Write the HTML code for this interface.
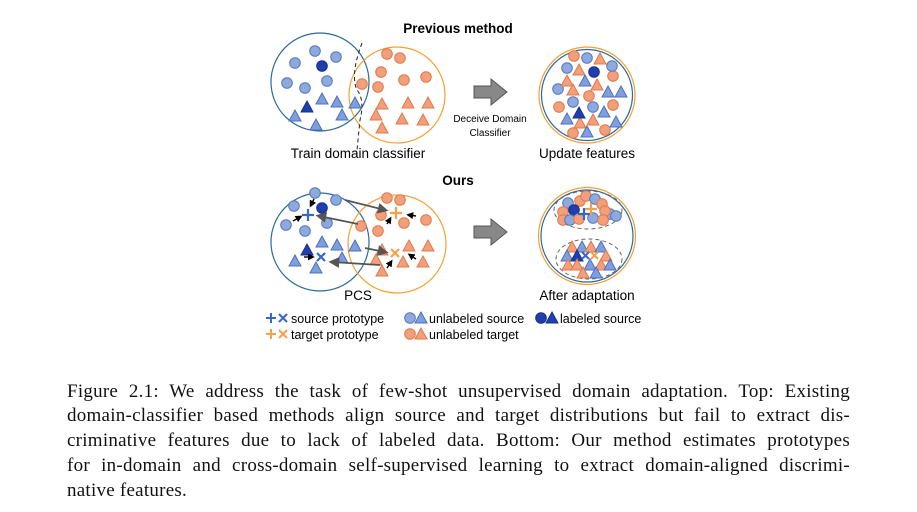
<!DOCTYPE html>
<html><head><meta charset="utf-8"><style>
body{margin:0;background:#fff;width:917px;height:512px;overflow:hidden;position:relative}
svg{position:absolute;left:0;top:0}
.cap{position:absolute;left:67px;width:783px;font-family:"Liberation Serif",serif;font-size:19px;letter-spacing:0.25px;color:#111;white-space:nowrap}
.j{text-align:justify;text-align-last:justify;white-space:normal}
</style></head><body>
<svg width="917" height="360" viewBox="0 0 917 360">
<defs>
<circle id="bc" r="5.3" fill="#8eaadc" stroke="#5577c0" stroke-width="1"/>
<circle id="dc" r="5.3" fill="#1f3fae" stroke="#16308a" stroke-width="1"/>
<circle id="oc" r="5.3" fill="#f2a07c" stroke="#e0794a" stroke-width="1"/>
<polygon id="bt" points="0,-6 6,5 -6,5" fill="#7f9fdc" stroke="#4d6fc0" stroke-width="1"/>
<polygon id="dt" points="0,-6 6,5 -6,5" fill="#1f3fae" stroke="#16308a" stroke-width="1"/>
<polygon id="ot" points="0,-6 6,5 -6,5" fill="#f2a07c" stroke="#e0794a" stroke-width="1"/>
<marker id="ga" markerWidth="6" markerHeight="6" refX="4" refY="3" orient="auto"><path d="M0,0 L6,3 L0,6z" fill="#555"/></marker>
<marker id="ka" markerWidth="5" markerHeight="5" refX="3" refY="2.5" orient="auto"><path d="M0,0 L5,2.5 L0,5z" fill="#000"/></marker>
</defs>
<g font-family="Liberation Sans,sans-serif" text-anchor="middle" fill="#000">
<text x="458" y="33" font-size="13.5" font-weight="bold">Previous method</text>
<text x="458" y="185" font-size="13.5" font-weight="bold">Ours</text>
<text x="358" y="158" font-size="13.5">Train domain classifier</text>
<text x="587" y="158" font-size="13.5">Update features</text>
<text x="358" y="300" font-size="13.5">PCS</text>
<text x="587" y="300" font-size="13.5">After adaptation</text>
<text x="490" y="122" font-size="10">Deceive Domain</text>
<text x="490" y="136" font-size="10">Classifier</text>
</g>
<!-- top left -->
<circle cx="320" cy="82" r="49" fill="none" stroke="#2a6aa0" stroke-width="1.2"/>
<circle cx="397" cy="95" r="48" fill="none" stroke="#f5a030" stroke-width="1.2"/>
<path d="M362,43 Q350,75 357,90 Q365,100 360,120 L357,150" fill="none" stroke="#222" stroke-width="1" stroke-dasharray="4,3"/>
<use href="#bc" x="315" y="51"/><use href="#bc" x="336" y="57"/><use href="#bc" x="295" y="63"/><use href="#dc" x="322" y="66"/><use href="#bc" x="327" y="81"/><use href="#bc" x="287" y="83"/><use href="#bc" x="305" y="88"/>
<use href="#bt" x="322" y="99"/><use href="#bt" x="337" y="102"/><use href="#dt" x="307" y="107"/><use href="#bt" x="355" y="103"/><use href="#bt" x="295" y="116"/><use href="#bt" x="342" y="115"/><use href="#bt" x="316" y="125"/>
<use href="#oc" x="387" y="54"/><use href="#oc" x="400" y="58"/><use href="#oc" x="381" y="72"/><use href="#oc" x="404" y="80"/><use href="#oc" x="426" y="77"/><use href="#oc" x="362" y="84"/><use href="#oc" x="378" y="87"/>
<use href="#ot" x="382" y="104"/><use href="#ot" x="408" y="103"/><use href="#ot" x="428" y="103"/><use href="#ot" x="376" y="115"/><use href="#ot" x="402" y="119"/><use href="#ot" x="423" y="120"/><use href="#ot" x="382" y="128"/>
<!-- arrows -->
<polygon points="474,86 491,86 491,79 507,92 491,105 491,98 474,98" fill="#888" stroke="#555" stroke-width="1"/>
<polygon points="474,226 491,226 491,219 507,232 491,245 491,238 474,238" fill="#888" stroke="#555" stroke-width="1"/>
<!-- top right -->
<circle cx="587" cy="95" r="48" fill="none" stroke="#f5a030" stroke-width="1.2"/>
<circle cx="587" cy="95" r="45.5" fill="none" stroke="#2a6aa0" stroke-width="1.2"/>
<use href="#oc" x="574" y="56"/><use href="#oc" x="559" y="107"/><use href="#oc" x="589" y="96"/><use href="#oc" x="613" y="76"/><use href="#oc" x="613" y="105"/><use href="#oc" x="573" y="133"/><use href="#oc" x="605" y="130"/>
<use href="#bc" x="587" y="58"/><use href="#bc" x="567" y="68"/><use href="#dc" x="594" y="72"/><use href="#bc" x="612" y="66"/><use href="#bc" x="558" y="89"/><use href="#bc" x="573" y="102"/><use href="#bc" x="593" y="107"/>
<use href="#ot" x="600" y="59"/><use href="#ot" x="579" y="70"/><use href="#ot" x="567" y="81"/><use href="#ot" x="597" y="85"/><use href="#ot" x="573" y="90"/><use href="#ot" x="580" y="123"/><use href="#ot" x="593" y="120"/>
<use href="#bt" x="585" y="81"/><use href="#bt" x="608" y="92"/><use href="#bt" x="621" y="92"/><use href="#dt" x="579" y="113"/><use href="#bt" x="567" y="119"/><use href="#bt" x="604" y="112"/><use href="#bt" x="616" y="122"/><use href="#bt" x="587" y="132"/>
<!-- bottom left -->
<circle cx="320" cy="242" r="49" fill="none" stroke="#2a6aa0" stroke-width="1.2"/>
<circle cx="397" cy="244" r="49" fill="none" stroke="#f5a030" stroke-width="1.2"/>
<use href="#bc" x="315" y="193"/><use href="#bc" x="294" y="206"/><use href="#bc" x="336" y="200"/><use href="#dc" x="322" y="208"/><use href="#bc" x="286" y="225"/><use href="#bc" x="305" y="231"/><use href="#bc" x="327" y="223"/>
<use href="#bt" x="322" y="242"/><use href="#bt" x="337" y="245"/><use href="#dt" x="307" y="250"/><use href="#bt" x="355" y="246"/><use href="#bt" x="295" y="261"/><use href="#bt" x="342" y="258"/><use href="#bt" x="316" y="268"/>
<use href="#oc" x="387" y="198"/><use href="#oc" x="400" y="200"/><use href="#oc" x="381" y="215"/><use href="#oc" x="404" y="223"/><use href="#oc" x="426" y="220"/><use href="#oc" x="361" y="226"/><use href="#oc" x="378" y="231"/>
<use href="#ot" x="382" y="250"/><use href="#ot" x="409" y="246"/><use href="#ot" x="428" y="246"/><use href="#ot" x="376" y="260"/><use href="#ot" x="403" y="262"/><use href="#ot" x="423" y="262"/><use href="#ot" x="382" y="271"/>
<g stroke-width="2.2" fill="none">
<path d="M302,215 h12 M308,209 v12" stroke="#3a66c8"/>
<path d="M317,253 l8,8 M325,253 l-8,8" stroke="#3a66c8"/>
<path d="M390,213 h12 M396,207 v12" stroke="#f5a04a"/>
<path d="M391,249 l8,8 M399,249 l-8,8" stroke="#f5a04a"/>
</g>
<g stroke="#555" stroke-width="1.8" marker-end="url(#ga)">
<line x1="345" y1="200" x2="385" y2="210"/><line x1="358" y1="224" x2="319" y2="216"/>
<line x1="365" y1="248" x2="385" y2="252"/><line x1="380" y1="265" x2="332" y2="262"/>
</g>
<g stroke="#000" stroke-width="1.4" marker-end="url(#ka)">
<line x1="314" y1="199" x2="311" y2="205"/><line x1="293" y1="221" x2="300" y2="217"/>
<line x1="304" y1="257" x2="312" y2="257"/><line x1="387" y1="224" x2="390" y2="219"/>
<line x1="416" y1="216" x2="409" y2="215"/><line x1="387" y1="268" x2="391" y2="262"/>
<line x1="416" y1="259" x2="410" y2="255"/>
</g>
<!-- bottom right -->
<circle cx="587" cy="236" r="48.5" fill="none" stroke="#f5a030" stroke-width="1.2"/>
<circle cx="587" cy="236" r="46" fill="none" stroke="#2a6aa0" stroke-width="1.2"/>
<ellipse cx="588" cy="210" rx="34" ry="19" fill="none" stroke="#666" stroke-dasharray="4,3"/>
<ellipse cx="589" cy="259" rx="33" ry="20" fill="none" stroke="#666" stroke-dasharray="4,3"/>
<use href="#bc" x="568" y="203"/><use href="#oc" x="580" y="201"/><use href="#oc" x="586" y="196"/><use href="#bc" x="595" y="199"/><use href="#oc" x="602" y="204"/>
<use href="#oc" x="563" y="212"/><use href="#dc" x="574" y="210"/><use href="#bc" x="610" y="214"/><use href="#bc" x="616" y="216"/><use href="#oc" x="605" y="211"/>
<use href="#oc" x="563" y="220"/><use href="#bc" x="570" y="220"/><use href="#oc" x="579" y="219"/><use href="#bc" x="593" y="218"/><use href="#oc" x="603" y="220"/>
<g stroke-width="2.2"><path d="M578,214 h12 M584,208 v12" stroke="#3a66c8"/><path d="M585,209 h12 M591,203 v12" stroke="#f5a04a"/></g>
<use href="#ot" x="572" y="247"/><use href="#bt" x="582" y="247"/><use href="#ot" x="591" y="247"/><use href="#bt" x="601" y="247"/>
<use href="#bt" x="567" y="256"/><use href="#dt" x="577" y="256"/><use href="#ot" x="606" y="256"/>
<g stroke-width="2"><path d="M582,252 l7,7 M589,252 l-7,7" stroke="#3a66c8"/><path d="M591,252 l7,7 M598,252 l-7,7" stroke="#f5a04a"/></g>
<use href="#ot" x="568" y="265"/><use href="#ot" x="577" y="265"/><use href="#bt" x="590" y="265"/><use href="#ot" x="601" y="265"/><use href="#bt" x="610" y="265"/>
<use href="#ot" x="583" y="273"/><use href="#bt" x="596" y="273"/>
<!-- legend -->
<g stroke-width="2"><path d="M266,318 h10 M271,313 v10 M279,314 l8,8 M287,314 l-8,8" stroke="#3a66c8"/>
<path d="M266,334 h10 M271,329 v10 M279,330 l8,8 M287,330 l-8,8" stroke="#f5a04a"/></g>
<use href="#bc" x="410" y="318"/><use href="#bt" x="421" y="318"/>
<use href="#oc" x="410" y="334"/><use href="#ot" x="421" y="334"/>
<use href="#dc" x="541" y="318"/><use href="#dt" x="552" y="318"/>
<g font-family="Liberation Sans,sans-serif" font-size="12.5" fill="#000">
<text x="291" y="323">source prototype</text><text x="291" y="339">target prototype</text>
<text x="429" y="323">unlabeled source</text><text x="429" y="339">unlabeled target</text>
<text x="560" y="323">labeled source</text>
</g>
</svg>
<div class="cap j" style="top:381px">Figure 2.1: We address the task of few-shot unsupervised domain adaptation. Top: Existing</div>
<div class="cap j" style="top:405px">domain-classifier based methods align source and target distributions but fail to extract dis-</div>
<div class="cap j" style="top:430px">criminative features due to lack of labeled data. Bottom: Our method estimates prototypes</div>
<div class="cap j" style="top:455px">for in-domain and cross-domain self-supervised learning to extract domain-aligned discrimi-</div>
<div class="cap" style="top:480px">native features.</div>
</body></html>
